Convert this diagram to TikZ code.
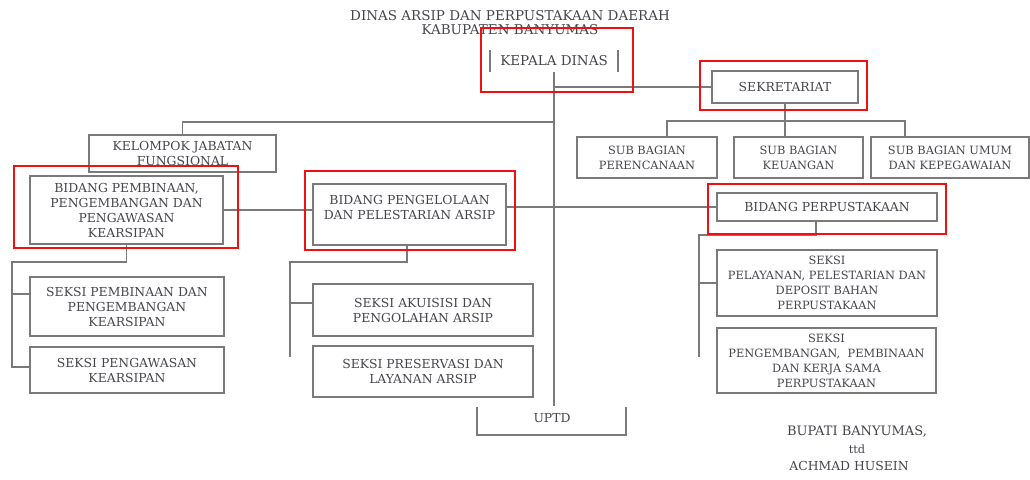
\documentclass[tikz,border=0pt]{standalone}
\usepackage{fontspec}
\setmainfont{DejaVu Serif}
\definecolor{txt}{HTML}{45454D}
\definecolor{ln}{HTML}{7A7A7A}
\definecolor{hl}{HTML}{F01010}
\begin{document}
\begin{tikzpicture}[x=1pt,y=-1pt,
  every node/.style={font=\fontsize{12.4}{15}\selectfont, text=txt, align=center, inner sep=0pt, outer sep=0pt},
  big/.style={font=\fontsize{13.5}{14}\selectfont},
  small/.style={font=\fontsize{11.4}{15}\selectfont},
  box/.style={draw=ln, line width=1.1pt},
  conn/.style={draw=ln, line width=1.1pt},
  hlbox/.style={draw=hl, line width=2.4pt}]
\useasboundingbox (0,0) rectangle (1030,479);
% title
\node[big] (t1) at (510,16) {DINAS ARSIP DAN PERPUSTAKAAN DAERAH};
\node[big] (t2) at (510,30) {KABUPATEN BANYUMAS};
% head
\node[big, minimum width=128pt, minimum height=22pt] (kepala) at (554,61) {KEPALA DINAS};
\draw[conn] (kepala.north west) -- (kepala.south west);
\draw[conn] (kepala.north east) -- (kepala.south east);
% boxes
\node[box, minimum width=146pt, minimum height=32pt] (sek) at (785,87) {SEKRETARIAT};
\node[box, small, minimum width=140pt, minimum height=41pt] (sbp) at (647,157.5) {SUB BAGIAN\\PERENCANAAN};
\node[box, small, minimum width=129pt, minimum height=41pt] (sbk) at (798.5,157.5) {SUB BAGIAN\\KEUANGAN};
\node[box, small, minimum width=158pt, minimum height=41pt] (sbu) at (950,157.5) {SUB BAGIAN UMUM\\DAN KEPEGAWAIAN};
\node[box, minimum width=187pt, minimum height=37pt] (kjf) at (182.5,153.5) {KELOMPOK JABATAN\\FUNGSIONAL};
\node[box, minimum width=193pt, minimum height=68pt] (bpk) at (126.5,210) {BIDANG PEMBINAAN,\\PENGEMBANGAN DAN\\PENGAWASAN\\KEARSIPAN};
\node[box, minimum width=193pt, minimum height=61pt] (bpa) at (409.5,214.5) {BIDANG PENGELOLAAN\\DAN PELESTARIAN ARSIP\\\mbox{}};
\node[box, minimum width=220pt, minimum height=28pt] (bpu) at (827,207) {BIDANG PERPUSTAKAAN};
\node[box, small, minimum width=220pt, minimum height=66pt] (spp) at (827,283) {SEKSI\\PELAYANAN, PELESTARIAN DAN\\DEPOSIT BAHAN\\PERPUSTAKAAN};
\node[box, small, minimum width=219pt, minimum height=65pt] (spk) at (826.5,360.5) {SEKSI\\PENGEMBANGAN,\ \ PEMBINAAN\\DAN KERJA SAMA\\PERPUSTAKAAN};
\node[box, minimum width=194pt, minimum height=59pt] (spe) at (127,306.5) {SEKSI PEMBINAAN DAN\\PENGEMBANGAN\\KEARSIPAN};
\node[box, minimum width=194pt, minimum height=46pt] (spw) at (127,370) {SEKSI PENGAWASAN\\KEARSIPAN};
\node[box, minimum width=220pt, minimum height=52pt] (sak) at (423,310) {SEKSI AKUISISI DAN\\PENGOLAHAN ARSIP};
\node[box, minimum width=220pt, minimum height=51pt] (spr) at (423,371.5) {SEKSI PRESERVASI DAN\\LAYANAN ARSIP};
\node (uptd) at (552,418) {UPTD};
\node[font=\fontsize{13}{15}\selectfont] (bup) at (857,432) {BUPATI BANYUMAS,};
\node[small] (ttd) at (857,449) {ttd};
\node (ach) at (849,466) {ACHMAD HUSEIN};
% coordinates
\coordinate (cbot) at (554,406);
\coordinate (c87) at (554,87);
\coordinate (c122) at (554,122);
\coordinate (sbar) at (785,121);
\coordinate (ul) at (477,407);
\coordinate (ur) at (626,407);
% central spine
\draw[conn] (kepala.south) -- (cbot);
\draw[conn] (c87) -- (sek.west);
% sekretariat
\draw[conn] (sek.south) -- (sbar);
\draw[conn] (sbar) -- (sbk.north -| sek.south);
\draw[conn] (sbar) -| (667,137);
\draw[conn] (sbar) -| (905,137);
% kelompok
\draw[conn] (c122) -| (kjf.north);
% bidang line
\draw[conn] (bpk.east) -- (bpk.east -| bpa.west);
\draw[conn] (bpa.east |- bpu.west) -- (bpu.west);
% perpustakaan
\draw[conn] ([xshift=-11pt]bpu.south) -- (816,235) -- (699,235) -- (699,357);
\draw[conn] (699,283) -- (spp.west);
% left
\draw[conn] (bpk.south) -- (126.5,262) -- (12,262) -- (12,367) -- (spw.west |- 0,367);
\draw[conn] (12,294) -- (spe.west |- 0,294);
% middle
\draw[conn] ([xshift=-2.5pt]bpa.south) -- (407,262) -- (290,262) -- (290,357);
\draw[conn] (290,303) -- (sak.west |- 0,303);
% uptd bracket
\draw[conn] (ul) -- (477,435) -- (626,435) -- (ur);
% red highlight marks
\draw[hlbox] (481,28) rectangle (633,92);
\draw[hlbox] (700,61) rectangle (867,110);
\draw[hlbox] (14,166) rectangle (238,248);
\draw[hlbox] (305,171) rectangle (515,250);
\draw[hlbox] (708,184) rectangle (946,234);
\end{tikzpicture}
\end{document}
